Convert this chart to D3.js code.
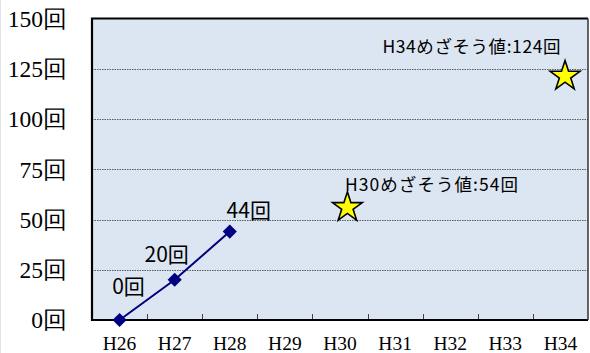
<!DOCTYPE html>
<html>
<head>
<meta charset="utf-8">
<script src="https://cdn.jsdelivr.net/npm/d3@7"></script>
<style>
  html, body { margin: 0; padding: 0; background: #ffffff; }
  svg { display: block; }
</style>
</head>
<body>
<svg id="chart" width="590" height="353"></svg>
<script>
// ---- data ----
const categories = ["H26", "H27", "H28", "H29", "H30", "H31", "H32", "H33", "H34"];
const actualCategories = ["H26", "H27", "H28"];
const actualValues = [0, 20, 44];
const targetCategories = ["H30", "H34"];
const targetValues = [54, 124];
const targetLabels = ["H30めざそう値:54回", "H34めざそう値:124回"];
const yTickValues = [0, 25, 50, 75, 100, 125, 150];
const unit = "回";

// ---- styling / label placement (not data) ----
const actualLabelOffsets = [[9, -26], [-8, -18], [19, -14]];
const starOffsets = [[7.4, -4], [4.6, 5.4]];
const targetLabelAnchors = ["start", "end"];
const targetLabelOffsets = [[5, -20], [0, -18]];
const targetLabelWidths = [173, 178];

const W = 590, H = 353;
const plot = { left: 92, right: 588, top: 18.5, bottom: 320 };

const svg = d3.select("#chart");

// faint left edge line seen in the reference
svg.append("line").attr("x1", 0.5).attr("x2", 0.5).attr("y1", 0).attr("y2", H)
  .attr("stroke", "#e4e4e4").attr("stroke-width", 1);

const x = d3.scaleBand().domain(categories).range([plot.left, plot.right]).padding(0);
const y = d3.scaleLinear().domain([0, 150]).range([plot.bottom, plot.top]);
const cx = c => x(c) + x.bandwidth() / 2;

// plot background
svg.append("rect")
  .attr("x", plot.left).attr("y", plot.top)
  .attr("width", plot.right - plot.left).attr("height", plot.bottom - plot.top)
  .attr("fill", "#dce6f2");

// gridlines
svg.append("g").selectAll("line")
  .data(yTickValues.filter(v => v > 0 && v < 150))
  .join("line")
  .attr("x1", plot.left).attr("x2", plot.right)
  .attr("y1", d => Math.round(y(d)) + 0.5).attr("y2", d => Math.round(y(d)) + 0.5)
  .attr("stroke", "#5a5a5a").attr("stroke-width", 1)
  .attr("stroke-dasharray", "1.5,1");

// inner tick marks on x axis at category boundaries
svg.append("g").selectAll("line")
  .data(categories.slice(1))
  .join("line")
  .attr("x1", d => Math.round(x(d)) + 0.5).attr("x2", d => Math.round(x(d)) + 0.5)
  .attr("y1", plot.bottom).attr("y2", plot.bottom - 6)
  .attr("stroke", "#444").attr("stroke-width", 1);

// plot border
svg.append("path")
  .attr("d", `M${plot.right},${plot.top} L${plot.left},${plot.top} L${plot.left},${plot.bottom} L${plot.right},${plot.bottom}`)
  .attr("fill", "none").attr("stroke", "#000").attr("stroke-width", 2.2);
svg.append("line")
  .attr("x1", plot.right).attr("x2", plot.right).attr("y1", plot.top).attr("y2", plot.bottom)
  .attr("stroke", "#333").attr("stroke-width", 1.5);

// y axis labels
const yAxis = d3.axisLeft(y).tickValues(yTickValues).tickSize(0).tickPadding(0)
  .tickFormat(d => d + unit);
const gy = svg.append("g").attr("transform", `translate(67,0)`).call(yAxis);
gy.select(".domain").remove();
gy.selectAll("text")
  .attr("font-family", "'Liberation Serif', 'Times New Roman', serif")
  .attr("font-size", 23.5).attr("fill", "#000").attr("dy", "0.33em");

// x axis labels
const xAxis = d3.axisBottom(x).tickSize(0).tickPadding(16);
const gx = svg.append("g").attr("transform", `translate(0,${plot.bottom})`).call(xAxis);
gx.select(".domain").remove();
gx.selectAll("text")
  .attr("font-family", "'Liberation Serif', 'Times New Roman', serif")
  .attr("font-size", 19.5).attr("fill", "#000");

// actual series line
const actual = actualCategories.map((c, i) => ({ c, v: actualValues[i], i }));
svg.append("path")
  .datum(actual)
  .attr("d", d3.line().x(d => cx(d.c)).y(d => y(d.v)))
  .attr("fill", "none").attr("stroke", "#000080").attr("stroke-width", 2);

svg.append("g").selectAll("path")
  .data(actual)
  .join("path")
  .attr("d", d3.symbol(d3.symbolSquare, 100))
  .attr("transform", d => `translate(${cx(d.c)},${y(d.v)}) rotate(45)`)
  .attr("fill", "#000080");

svg.append("g").selectAll("text")
  .data(actual)
  .join("text")
  .attr("x", d => cx(d.c) + actualLabelOffsets[d.i][0])
  .attr("y", d => y(d.v) + actualLabelOffsets[d.i][1])
  .attr("text-anchor", "middle")
  .attr("font-family", "'Noto Sans CJK JP', sans-serif")
  .attr("font-size", 21).attr("fill", "#000")
  .text(d => d.v + unit);

// targets (stars)
const targets = targetCategories.map((c, i) => ({ c, v: targetValues[i], label: targetLabels[i], i }));
svg.append("g").selectAll("path")
  .data(targets)
  .join("path")
  .attr("d", d3.symbol(d3.symbolStar, 275))
  .attr("transform", d => `translate(${cx(d.c) + starOffsets[d.i][0]},${y(d.v) + starOffsets[d.i][1]})`)
  .attr("fill", "#ffff00").attr("stroke", "#000").attr("stroke-width", 1.6)
  .attr("stroke-linejoin", "miter");

svg.append("g").selectAll("text")
  .data(targets)
  .join("text")
  .attr("x", d => cx(d.c) + targetLabelOffsets[d.i][0])
  .attr("y", d => y(d.v) + targetLabelOffsets[d.i][1])
  .attr("text-anchor", d => targetLabelAnchors[d.i])
  .attr("textLength", d => targetLabelWidths[d.i])
  .attr("lengthAdjust", "spacing")
  .attr("font-family", "'Noto Sans CJK JP', sans-serif")
  .attr("font-size", 17.5).attr("fill", "#000")
  .text(d => d.label);
</script>
</body>
</html>
